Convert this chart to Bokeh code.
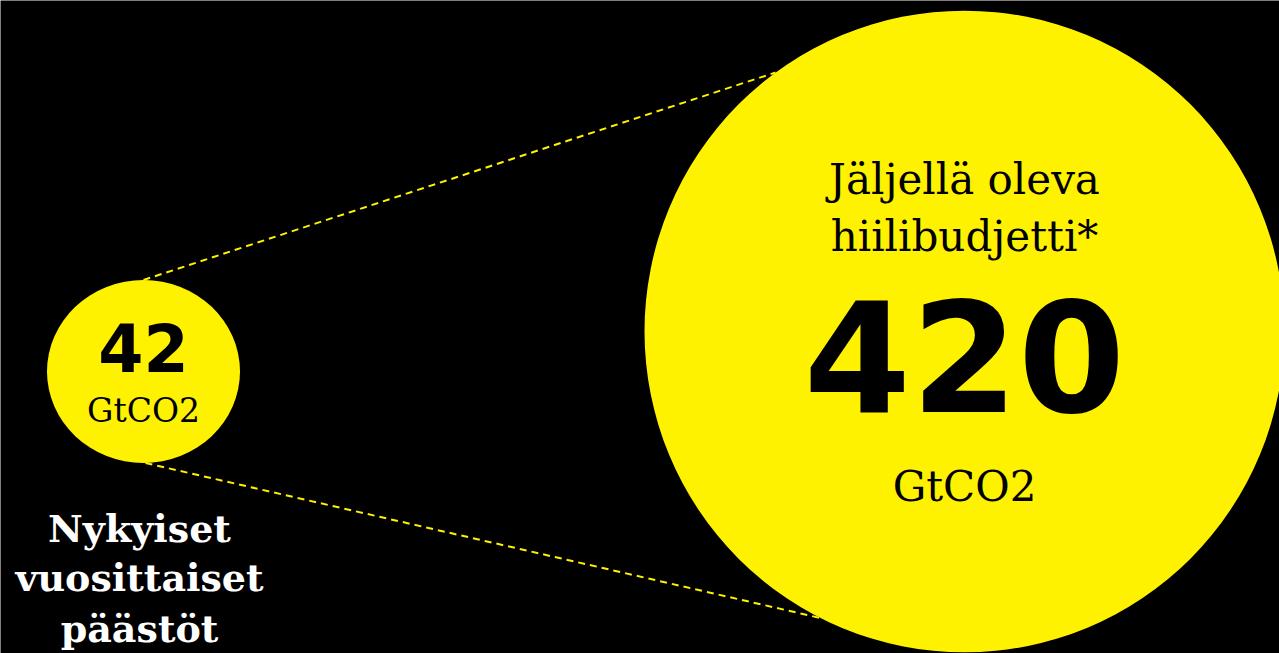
from bokeh.plotting import figure
from bokeh.models import Range1d, ColumnDataSource
from bokeh.core.properties import value
from bokeh.embed import file_html
from bokeh.resources import INLINE

# ---- data ----
values = [42, 420]
value_labels = ["42", "420"]
unit_labels = ["GtCO2", "GtCO2"]
big_title = ["Jäljellä oleva", "hiilibudjetti*"]
small_title = ["Nykyiset", "vuosittaiset", "päästöt"]

# ---- layout (pixel coordinates of the reference image) ----
W, H = 1279, 653
circ_x = [143, 964]
circ_y = [371, 331]
circ_w = [193, 640]
circ_h = [183, 642]
YELLOW = "#FFF200"
SERIF = "DejaVu Serif"
HEAVY = "DejaVu Sans"
SHIFT = 0.385  # baseline correction (fraction of font size)


def base(y, size):
    return y - SHIFT * size


p = figure(width=W, height=H, output_backend="svg", toolbar_location=None,
           x_range=Range1d(0, W), y_range=Range1d(H, 0),
           min_border=0, background_fill_color="black", border_fill_color="black")
p.axis.visible = False
p.grid.visible = False
p.outline_line_color = None

# dashed connector lines
p.segment(x0=[circ_x[0], circ_x[0] + 2], y0=[circ_y[0] - circ_h[0] / 2, circ_y[0] + circ_h[0] / 2],
          x1=[775, 822], y1=[72, 618], line_color=YELLOW, line_width=2, line_dash="7 5")

src = ColumnDataSource(dict(x=circ_x, y=circ_y, w=circ_w, h=circ_h, v=values))
p.ellipse(x="x", y="y", width="w", height="h", source=src, fill_color=YELLOW, line_color=None)

# big circle texts
s = 42
p.text(x=[circ_x[1]] * 2, y=[base(195, s), base(252, s)], text=big_title, text_align="center",
       text_baseline="alphabetic", text_font=value(SERIF), text_font_size=f"{s}px",
       text_color="black")
s = 154
p.text(x=[circ_x[1]], y=[base(415, s)], text=[value_labels[1]], text_align="center",
       text_baseline="alphabetic", text_font=value(HEAVY), text_font_style="bold",
       text_font_size=f"{s}px", text_color="black")
s = 42
p.text(x=[circ_x[1]], y=[base(502, s)], text=[unit_labels[1]], text_align="center",
       text_baseline="alphabetic", text_font=value(SERIF), text_font_size=f"{s}px",
       text_color="black")

# small circle texts
s = 65
p.text(x=[circ_x[0]], y=[base(372, s)], text=[value_labels[0]], text_align="center",
       text_baseline="alphabetic", text_font=value(HEAVY), text_font_style="bold",
       text_font_size=f"{s}px", text_color="black")
s = 33
p.text(x=[circ_x[0]], y=[base(423, s)], text=[unit_labels[0]], text_align="center",
       text_baseline="alphabetic", text_font=value(SERIF), text_font_size=f"{s}px",
       text_color="black")

# label below small circle
s = 38
p.text(x=[139] * 3, y=[base(543, s), base(592, s), base(643, s)], text=small_title,
       text_align="center", text_baseline="alphabetic", text_font=value(SERIF),
       text_font_style="bold", text_font_size=f"{s}px", text_color="white")

open("out.html", "w").write(file_html(p, INLINE))
